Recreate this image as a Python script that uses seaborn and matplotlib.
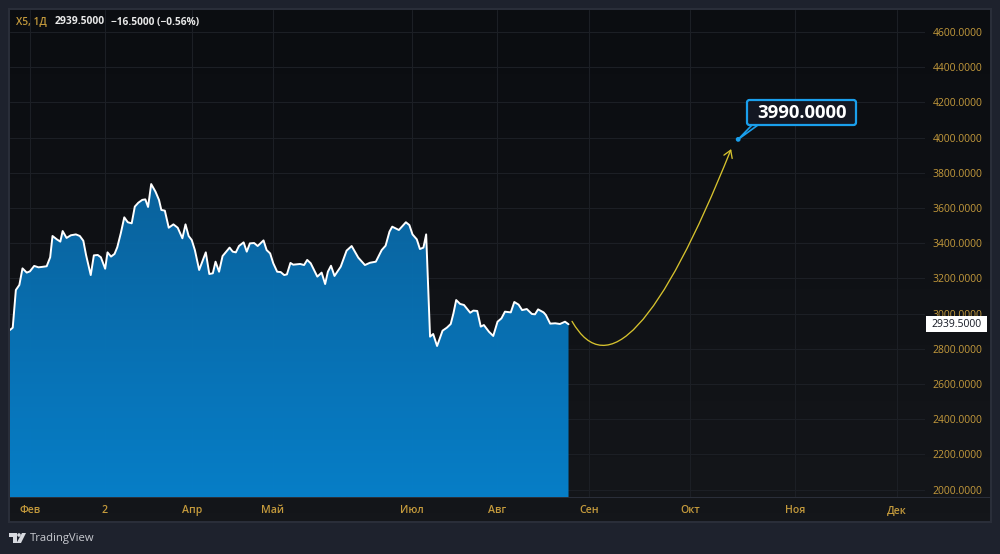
import numpy as np
import seaborn as sns
import matplotlib
matplotlib.use("Agg")
import matplotlib.pyplot as plt
from matplotlib.colors import LinearSegmentedColormap
from matplotlib.patches import Circle, FancyArrowPatch, FancyBboxPatch, Polygon, Rectangle
from matplotlib.path import Path
from matplotlib.transforms import IdentityTransform

# Session number on the chart's bar axis and closing price
sessions = [
    0.0, 0.7, 1.5, 2.4, 3.2, 4.3, 5.1, 6.2, 7.3, 8.1, 9.4, 10.3, 10.9, 12.0, 12.9, 13.5, 14.5, 15.6, 16.9, 17.9,
    18.8, 19.5, 20.7, 21.5, 22.5, 23.3, 24.4, 25.0, 25.9, 26.8, 27.5, 28.4, 29.3, 30.2, 31.2, 32.0, 32.9, 33.9,
    34.7, 35.4, 36.2, 37.3, 38.2, 38.8, 39.7, 40.7, 41.9, 43.0, 44.2, 45.0, 45.8, 46.6, 47.4, 48.5, 50.2, 51.1,
    52.0, 52.7, 53.6, 54.5, 55.6, 56.3, 57.1, 57.9, 58.7, 59.9, 60.7, 61.5, 62.6, 63.5, 65.0, 65.8, 66.7, 67.5,
    68.5, 69.4, 70.3, 71.0, 71.9, 72.6, 74.4, 75.4, 76.2, 77.1, 78.8, 79.9, 80.8, 81.5, 82.3, 83.2, 84.8, 86.3,
    87.6, 89.3, 91.0, 92.3, 93.8, 95.3, 96.3, 97.3, 98.0, 99.7, 101.5, 102.4, 103.2, 104.3, 105.1, 106.0, 106.7,
    107.7, 108.5, 109.5, 110.9, 112.0, 113.0, 113.7, 114.4, 115.4, 116.4, 118.0, 118.8, 119.8, 120.7, 121.5,
    122.8, 123.9, 125.0, 126.0, 126.9, 128.4, 129.3, 130.4, 131.3, 132.5, 133.8, 134.6, 135.4, 136.8, 137.4,
    138.5, 139.8, 141.0, 142.3, 143.2,
]
prices = [
    2907, 2920, 3134, 3163, 3257, 3233, 3240, 3271, 3263, 3265, 3269, 3320, 3441, 3422, 3409, 3469, 3430, 3445,
    3450, 3441, 3414, 3333, 3219, 3331, 3333, 3320, 3255, 3348, 3324, 3339, 3377, 3456, 3547, 3519, 3513, 3608,
    3630, 3646, 3649, 3606, 3736, 3693, 3646, 3589, 3585, 3488, 3507, 3488, 3428, 3507, 3441, 3418, 3361, 3248,
    3348, 3225, 3229, 3295, 3238, 3327, 3356, 3375, 3352, 3348, 3384, 3405, 3352, 3399, 3401, 3384, 3416, 3361,
    3342, 3286, 3238, 3236, 3219, 3223, 3288, 3278, 3282, 3276, 3305, 3286, 3210, 3233, 3168, 3238, 3272, 3214,
    3267, 3358, 3384, 3318, 3276, 3289, 3295, 3361, 3386, 3466, 3494, 3475, 3519, 3503, 3450, 3422, 3367, 3375,
    3450, 2869, 2884, 2816, 2903, 2920, 2941, 3002, 3077, 3055, 3049, 3005, 3017, 3015, 2926, 2935, 2897, 2873,
    2954, 2973, 3011, 3007, 3066, 3051, 3020, 3026, 2998, 2996, 3024, 3007, 2992, 2943, 2945, 2941, 2954, 2939.5,
]

# Forecast curve: start, bend control and end of a quadratic arc
forecast_sessions = [144.1, 157.7, 184.9]
forecast_prices = [2956, 2430, 3935]

target_session = 186.7
target_price = 3990.0
last_price = 2939.5

price_ticks = [2000, 2200, 2400, 2600, 2800, 3000, 3200, 3400, 3600, 3800, 4000, 4200, 4400, 4600]
month_sessions = [5.2, 24.3, 46.7, 67.4, 103.1, 124.9, 148.5, 174.4, 201.3, 227.4]
month_labels = ["Фев", "2", "Апр", "Май", "Июл", "Авг", "Сен", "Окт", "Ноя", "Дек"]

PAGE = "#1e222d"
FRAME = "#2a2e39"
GOLD = "#c49a3c"
GRID = "#1c1f25"
YELLOW = "#d6c22e"
BLUE = "#1a9fec"
FONT = ["Open Sans", "DejaVu Sans"]

sns.set_theme(style="dark")
plt.rcParams["font.family"] = FONT

W, H = 1000, 554
fig = plt.figure(figsize=(W / 100, H / 100), dpi=100, facecolor=PAGE)
PX = IdentityTransform()


def rect(x0, y0, x1, y1, **kw):
    """Rectangle given in top-left pixel coordinates."""
    fig.add_artist(Rectangle((x0, H - y1), x1 - x0, y1 - y0, transform=PX, **kw))


def label(x, y, s, **kw):
    fig.text(x / W, 1 - y / H, s, **kw)


# Chart panel with its frame and a subtle top-to-bottom shade
rect(8, 8, 992, 523, fc=FRAME, ec="none", zorder=-3)
back = fig.add_axes([10 / W, 1 - 521 / H, 980 / W, 511 / H], zorder=-2)
back.imshow(np.linspace(0, 1, 64)[:, None], aspect="auto",
            cmap=LinearSegmentedColormap.from_list("panel", ["#0b0d11", "#14161a"]))
back.axis("off")

ax = fig.add_axes([10 / W, 1 - 497 / H, 915 / W, 487 / H], facecolor="none")

ax.set_xticks(month_sessions, month_labels)
ax.set_yticks(price_ticks, [f"{p:.4f}" for p in price_ticks])
ax.yaxis.tick_right()
ax.grid(True, color=GRID, lw=0.8, zorder=0)
ax.set_axisbelow(True)
ax.tick_params(axis="y", length=0, pad=5.5, labelsize=7.5, labelcolor=GOLD)
ax.tick_params(axis="x", length=0, pad=6, labelsize=7.6, labelcolor=GOLD)
for tick in ax.get_xticklabels():
    tick.set_fontweight("semibold")
for tick in ax.get_yticklabels():
    tick.set_fontweight("medium")
for side in ax.spines.values():
    side.set_visible(False)

# Area under the price line, shaded from deep to bright blue
y_floor = 1958
area = ax.fill_between(sessions, prices, y_floor, color="none", lw=0)
shade = ax.imshow(np.linspace(0, 1, 128)[:, None], aspect="auto",
                  extent=[sessions[0], sessions[-1], y_floor, max(prices)], origin="upper", alpha=0.97, zorder=1.5,
                  cmap=LinearSegmentedColormap.from_list("area", ["#0a66a2", "#0682ce"]))
shade.set_clip_path(area.get_paths()[0], ax.transData)

sns.lineplot(x=sessions, y=prices, ax=ax, estimator=None, sort=False, color="white", lw=1.4, zorder=3)

arc = Path(list(zip(forecast_sessions, forecast_prices)), [Path.MOVETO, Path.CURVE3, Path.CURVE3])
ax.add_patch(FancyArrowPatch(path=arc, arrowstyle="->,head_length=3.2,head_width=2.0", mutation_scale=1.6,
                             color=YELLOW, lw=0.95, zorder=3))

ax.set_xlim(0, 234.6)
ax.set_ylim(y_floor, 4725)
ax.set_xlabel("")
ax.set_ylabel("")

# Divider between the plot and the date scale
rect(10, 497, 990, 498, fc=FRAME, ec="none", zorder=2)

# Target callout, anchored at the target price
tx, ty = ax.transData.transform((target_session, target_price))
fig.add_artist(Polygon([(tx, ty), (752, H - 125), (758, H - 125)], closed=True, transform=PX,
                       fc="#131722", ec=BLUE, lw=1.2, zorder=4))
fig.add_artist(Circle((tx, ty), 2.4, transform=PX, fc=BLUE, ec="none", zorder=5))
fig.add_artist(FancyBboxPatch((747, H - 125), 109, 25, boxstyle="round,pad=0,rounding_size=2.5", transform=PX,
                              fc="#131722", ec=BLUE, lw=1.6, zorder=5))
label(801.5, 112.5, f"{target_price:.4f}", color="white", fontsize=13.3, fontweight="bold", ha="center", va="center", zorder=6)

# Last price tag on the scale
tag_y = H - ax.transData.transform((0, last_price))[1]
rect(926, tag_y - 8, 987, tag_y + 8, fc="white", ec="none", zorder=4)
label(957, tag_y, f"{last_price:.4f}", color="#131722", fontsize=7.5, fontweight="medium", ha="center", va="center", zorder=5)

# Symbol header
label(16, 22, "X5, 1Д", color=GOLD, fontsize=7.3, fontweight="semibold", va="center")
label(55, 22, "2939.5000", color="#e8e8e8", fontsize=7.4, fontweight="bold", va="center")
label(111, 22, "−16.5000 (−0.56%)", color="#e8e8e8", fontsize=7.3, fontweight="bold", va="center")

# Brand mark and name in the footer
fig.add_artist(Polygon([(9, H - 533), (17, H - 533), (17, H - 543), (12.5, H - 543), (12.5, H - 537), (9, H - 537)],
                       closed=True, transform=PX, fc="#d8dae0", ec="none"))
fig.add_artist(Circle((19, H - 535), 1.8, transform=PX, fc="#d8dae0", ec="none"))
fig.add_artist(Polygon([(22, H - 533), (26, H - 533), (21, H - 543), (16.5, H - 543)],
                       closed=True, transform=PX, fc="#d8dae0", ec="none"))
label(30, 538, "TradingView", color="#c8cad0", fontsize=8.1, fontweight="medium", va="center")

fig.savefig("out.png", dpi=100, facecolor=PAGE)
